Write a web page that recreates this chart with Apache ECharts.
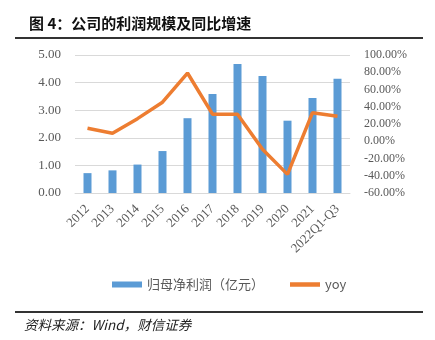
<!DOCTYPE html>
<html><head><meta charset="utf-8">
<script src="https://cdn.jsdelivr.net/npm/echarts@6/dist/echarts.min.js"></script>
<style>html,body{margin:0;padding:0;background:#fff}#c{width:435px;height:340px}</style>
</head><body><div id="c"></div>
<script>
const categories = ['2012','2013','2014','2015','2016','2017','2018','2019','2020','2021','2022Q1-Q3'];
const profit = [0.72, 0.82, 1.03, 1.52, 2.71, 3.59, 4.67, 4.24, 2.62, 3.44, 4.14];
const yoy = [15.0, 9.2, 26.2, 45.3, 79.1, 31.4, 31.4, -9.4, -38.4, 33.1, 28.9];
const profitName = '归母净利润（亿元）';
const yoyName = 'yoy';
const titleText = '图 4：公司的利润规模及同比增速';
const sourceText = '资料来源：Wind，财信证券';

const chart = echarts.init(document.getElementById('c'), null, {renderer:'canvas'});
const serif = '"Liberation Serif","DejaVu Serif",serif';
const cjk = '"Noto Sans CJK SC","Noto Sans",sans-serif';
chart.setOption({
  animation:false,
  backgroundColor:'#fff',
  title:{text:titleText,left:24,top:11,textStyle:{fontFamily:cjk,fontSize:15,fontWeight:'bold',color:'#111'}},
  graphic:[
    {type:'line',shape:{x1:15,y1:38,x2:423,y2:38},style:{stroke:'#333',lineWidth:2}},
    {type:'line',shape:{x1:15,y1:312,x2:423,y2:312},style:{stroke:'#333',lineWidth:2}},
    {type:'text',left:24,top:318,style:{text:sourceText,fontFamily:cjk,fontStyle:'italic',fontSize:13.5,fill:'#222'}}
  ],
  legend:{
    bottom:44,left:107,itemGap:26,
    textStyle:{fontFamily:cjk,fontSize:13,color:'#595959'},
    data:[{name:profitName,icon:'rect',itemStyle:{color:'#5B9BD5'}},{name:yoyName,icon:'path://M0,0 L10,0 L10,1.5 L0,1.5 Z'}],
    itemWidth:30,itemHeight:6
  },
  grid:{left:75,right:85,top:55,bottom:147},
  xAxis:{type:'category',data:categories,
    axisLine:{lineStyle:{color:'#D9D9D9',width:1}},axisTick:{show:false},
    axisLabel:{rotate:45,interval:0,fontFamily:serif,fontSize:13,color:'#595959',margin:14}},
  yAxis:[
    {type:'value',min:0,max:5,interval:1,
      axisLabel:{formatter:v=>v.toFixed(2),fontFamily:serif,fontSize:13,color:'#595959',margin:14},
      splitLine:{lineStyle:{color:'#D9D9D9',width:1}},axisLine:{show:false},axisTick:{show:false}},
    {type:'value',min:-60,max:100,interval:20,
      axisLabel:{formatter:v=>v.toFixed(2)+'%',fontFamily:serif,fontSize:12,color:'#595959',margin:14},
      splitLine:{show:false},axisLine:{show:false},axisTick:{show:false}}
  ],
  series:[
    {name:profitName,type:'bar',data:profit,barWidth:8,itemStyle:{color:'#5B9BD5'},yAxisIndex:0},
    {name:yoyName,type:'line',data:yoy,yAxisIndex:1,symbol:'none',
      lineStyle:{color:'#ED7D31',width:3.5},itemStyle:{color:'#ED7D31'}}
  ]
});
</script></body></html>
